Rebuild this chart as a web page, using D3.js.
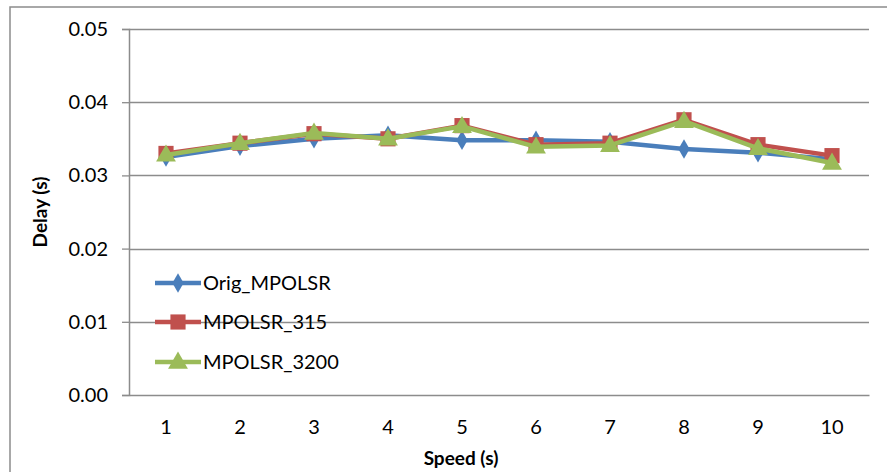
<!DOCTYPE html>
<html>
<head>
<meta charset="utf-8">
<script src="https://cdn.jsdelivr.net/npm/d3@7"></script>
<style>
  body { margin: 0; background: #fff; }
  svg { display: block; }
  text { font-family: Lato, "Open Sans", sans-serif; fill: #000; }
</style>
</head>
<body>
<svg id="chart" width="887" height="472"></svg>
<script>
const categories = ["1", "2", "3", "4", "5", "6", "7", "8", "9", "10"];
const origMPOLSR = [0.0325, 0.0340, 0.0350, 0.0355, 0.0348, 0.0348, 0.0346, 0.0336, 0.0331, 0.0322];
const mpolsr315 = [0.0330, 0.0344, 0.0357, 0.0350, 0.0368, 0.0342, 0.0344, 0.0376, 0.0342, 0.0327];
const mpolsr3200 = [0.0328, 0.0344, 0.0358, 0.0350, 0.0367, 0.0339, 0.0341, 0.0374, 0.0337, 0.0317];
const yTicks = [0, 0.01, 0.02, 0.03, 0.04, 0.05];
const seriesNames = ["Orig_MPOLSR", "MPOLSR_315", "MPOLSR_3200"];

(function () {
const series = [
  { name: seriesNames[0], values: origMPOLSR, color: "#4A7EBB", symbol: d3.symbolDiamond, size: 110, dy: 0 },
  { name: seriesNames[1], values: mpolsr315, color: "#C0504D", symbol: d3.symbolSquare, size: 230, dy: 0 },
  { name: seriesNames[2], values: mpolsr3200, color: "#9BBB59", symbol: d3.symbolTriangle, size: 170, dy: 1 }
];

const svg = d3.select("#chart");
const pLeft = 129, pRight = 869, pTop = 29, pBottom = 395;

// outer chart border
svg.append("rect").attr("x", 10).attr("y", 7).attr("width", 900).attr("height", 500)
  .attr("fill", "none").attr("stroke", "#8c8c8c").attr("stroke-width", 1.5);

const x = d3.scaleBand().domain(categories).range([pLeft, pRight]);
const y = d3.scaleLinear().domain([0, 0.05]).range([pBottom, pTop]);

// gridlines
svg.append("g").selectAll("line").data(yTicks.filter(d => d > 0)).join("line")
  .attr("x1", pLeft).attr("x2", pRight)
  .attr("y1", d => Math.round(y(d)) + 0.5).attr("y2", d => Math.round(y(d)) + 0.5)
  .attr("stroke", "#8c8c8c").attr("stroke-width", 1.3);

// y axis
const yAxis = svg.append("g").attr("transform", `translate(${pLeft},0)`)
  .call(d3.axisLeft(y).tickValues(yTicks).tickFormat(d3.format(".2f")).tickSize(7).tickPadding(14));
yAxis.select(".domain").attr("stroke", "#8c8c8c").attr("stroke-width", 1.5);
yAxis.selectAll(".tick line").attr("stroke", "#8c8c8c").attr("stroke-width", 1.3);
yAxis.selectAll("text").attr("font-size", 20).attr("font-family", "Lato, sans-serif").attr("fill", "#000");

// x axis
const xAxis = svg.append("g").attr("transform", `translate(0,${pBottom})`)
  .call(d3.axisBottom(x).tickSize(0).tickPadding(25));
xAxis.select(".domain").attr("stroke", "#8c8c8c").attr("stroke-width", 1.5);
xAxis.selectAll("text").attr("font-size", 20).attr("font-family", "Lato, sans-serif").attr("fill", "#000");

// axis titles
svg.append("text").attr("x", 461).attr("y", 465)
  .attr("text-anchor", "middle").attr("font-size", 19).attr("font-weight", "bold")
  .text("Speed (s)");
svg.append("text").attr("transform", `translate(47,${(pTop + pBottom) / 2}) rotate(-90)`)
  .attr("text-anchor", "middle").attr("font-size", 19).attr("font-weight", "bold")
  .text("Delay (s)");

const line = d3.line().x((d, i) => x(categories[i]) + x.bandwidth() / 2).y(d => y(d));

series.forEach(s => {
  const g = svg.append("g");
  g.append("path").datum(s.values).attr("d", line)
    .attr("fill", "none").attr("stroke", s.color).attr("stroke-width", 4.5)
    .attr("stroke-linejoin", "round");
  g.selectAll("path.m").data(s.values).join("path").attr("class", "m")
    .attr("transform", (d, i) => `translate(${x(categories[i]) + x.bandwidth() / 2},${y(d) + s.dy})`)
    .attr("d", d3.symbol(s.symbol, s.size)).attr("fill", s.color);
});

// legend
const legendY = [283, 322, 362];
series.forEach((s, i) => {
  const g = svg.append("g").attr("transform", `translate(155,${legendY[i]})`);
  g.append("line").attr("x1", 0).attr("x2", 46).attr("y1", 0).attr("y2", 0)
    .attr("stroke", s.color).attr("stroke-width", 4.5);
  g.append("path").attr("transform", `translate(23,${s.dy})`)
    .attr("d", d3.symbol(s.symbol, s.size)).attr("fill", s.color);
  g.append("text").attr("x", 48).attr("y", 7).attr("font-size", 20).text(s.name);
});
})();
</script>
</body>
</html>
